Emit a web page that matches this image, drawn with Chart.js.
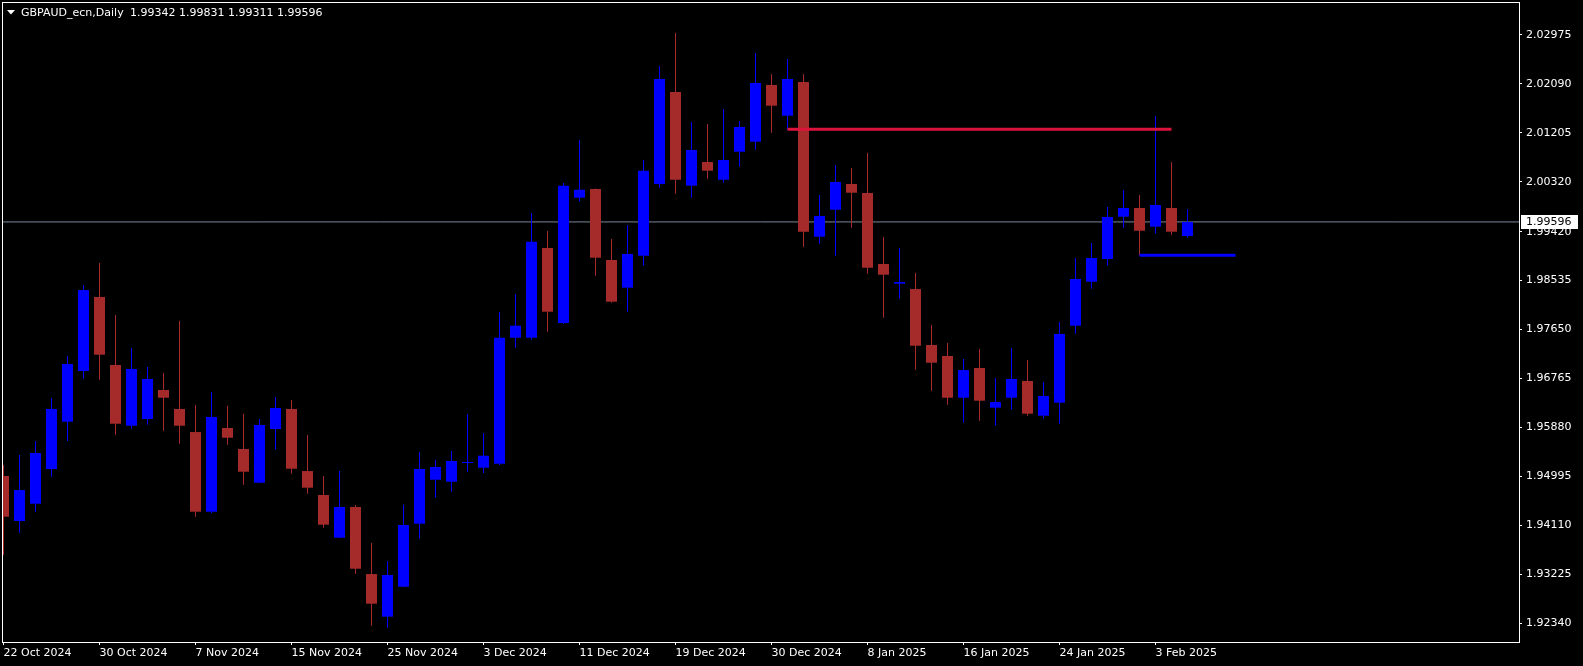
<!DOCTYPE html>
<html>
<head>
<meta charset="utf-8">
<title>GBPAUD_ecn,Daily</title>
<script src="https://cdn.jsdelivr.net/npm/chart.js@4.4.1/dist/chart.umd.min.js"></script>
<style>
  html, body { margin: 0; padding: 0; background: #000; overflow: hidden; }
  canvas { display: block; }
</style>
</head>
<body>
<canvas id="chart" width="1583" height="666"></canvas>
<script>
const symbol = 'GBPAUD_ecn,Daily'

const dates = [
  '22 Oct 2024', '23 Oct 2024', '24 Oct 2024', '25 Oct 2024', '28 Oct 2024', '29 Oct 2024',
  '30 Oct 2024', '31 Oct 2024', '1 Nov 2024', '4 Nov 2024', '5 Nov 2024', '6 Nov 2024',
  '7 Nov 2024', '8 Nov 2024', '11 Nov 2024', '12 Nov 2024', '13 Nov 2024', '14 Nov 2024',
  '15 Nov 2024', '18 Nov 2024', '19 Nov 2024', '20 Nov 2024', '21 Nov 2024', '22 Nov 2024',
  '25 Nov 2024', '26 Nov 2024', '27 Nov 2024', '28 Nov 2024', '29 Nov 2024', '2 Dec 2024',
  '3 Dec 2024', '4 Dec 2024', '5 Dec 2024', '6 Dec 2024', '9 Dec 2024', '10 Dec 2024',
  '11 Dec 2024', '12 Dec 2024', '13 Dec 2024', '16 Dec 2024', '17 Dec 2024', '18 Dec 2024',
  '19 Dec 2024', '20 Dec 2024', '23 Dec 2024', '24 Dec 2024', '26 Dec 2024', '27 Dec 2024',
  '30 Dec 2024', '31 Dec 2024', '2 Jan 2025', '3 Jan 2025', '6 Jan 2025', '7 Jan 2025',
  '8 Jan 2025', '9 Jan 2025', '10 Jan 2025', '13 Jan 2025', '14 Jan 2025', '15 Jan 2025',
  '16 Jan 2025', '17 Jan 2025', '20 Jan 2025', '21 Jan 2025', '22 Jan 2025', '23 Jan 2025',
  '24 Jan 2025', '27 Jan 2025', '28 Jan 2025', '29 Jan 2025', '30 Jan 2025', '31 Jan 2025',
  '3 Feb 2025', '4 Feb 2025', '5 Feb 2025'
]

const open = [
  1.95003, 1.94190, 1.94502, 1.95130, 1.95985, 1.96901, 1.98239, 1.97010, 1.95912, 1.96033,
  1.96558, 1.96214, 1.95798, 1.94358, 1.95871, 1.95491, 1.94882, 1.95853, 1.96214, 1.95093,
  1.94660, 1.93888, 1.94443, 1.93231, 1.92460, 1.93002, 1.94141, 1.94936, 1.94900, 1.95238,
  1.95153, 1.95225, 1.97503, 1.97503, 1.99125, 1.97769, 2.00034, 2.00191, 1.98908, 1.98407,
  1.98985, 2.00282, 2.01945, 2.00251, 2.00679, 2.00359, 2.00865, 2.01046, 2.02071, 2.01516,
  2.02125, 1.99329, 1.99817, 2.00282, 2.00119, 1.98835, 1.98479, 1.98383, 1.97371, 1.97172,
  1.96418, 1.96955, 1.96238, 1.96418, 1.96720, 1.96093, 1.96328, 1.97720, 1.98515, 1.98926,
  1.99690, 1.99848, 1.99510, 1.99848, 1.99342
]
const high = [
  1.95202, 1.95383, 1.95636, 1.96413, 1.97172, 1.98456, 1.98853, 1.97913, 1.97317, 1.96973,
  1.96865, 1.97805, 1.96287, 1.96522, 1.96268, 1.96124, 1.96033, 1.96431, 1.96377, 1.95744,
  1.95003, 1.95093, 1.94479, 1.93792, 1.93466, 1.94484, 1.95437, 1.95298, 1.95455, 1.96124,
  1.95780, 1.97968, 1.98293, 1.99757, 1.99432, 2.00300, 2.01077, 2.00200, 1.99287, 1.99540,
  2.00715, 2.02415, 2.03011, 2.01402, 2.01366, 2.01637, 2.01420, 2.02650, 2.02270, 2.02541,
  2.02270, 2.00083, 2.00625, 2.00571, 2.00842, 1.99323, 1.99125, 1.98673, 1.97733, 1.97407,
  1.97118, 1.97299, 1.96775, 1.97317, 1.97100, 1.96702, 1.97787, 1.98944, 1.99215, 1.99866,
  2.00173, 2.00083, 2.01511, 2.00679, 1.99831
]
const low = [
  1.93575, 1.93978, 1.94358, 1.94990, 1.95636, 1.96762, 1.96744, 1.95750, 1.95858, 1.95930,
  1.95822, 1.95587, 1.94267, 1.94329, 1.95569, 1.94846, 1.94875, 1.95478, 1.95045, 1.94683,
  1.94068, 1.93880, 1.93237, 1.92297, 1.92261, 1.92990, 1.93870, 1.94611, 1.94719, 1.95081,
  1.95057, 1.95202, 1.97322, 1.97467, 1.97612, 1.97750, 1.99962, 1.98624, 1.98136, 1.97973,
  1.98805, 2.00215, 2.00106, 2.00034, 2.00377, 2.00305, 2.00594, 2.00902, 2.01209, 2.01267,
  1.99148, 1.99202, 1.98985, 1.99492, 1.98660, 1.97865, 1.98208, 1.96925, 1.96545, 1.96292,
  1.95966, 1.96003, 1.95912, 1.96201, 1.96093, 1.96039, 1.95948, 1.97575, 1.98389, 1.98805,
  1.99492, 1.98993, 1.99383, 1.99365, 1.99311
]
const close = [
  1.94267, 1.94750, 1.95419, 1.96214, 1.97028, 1.98365, 1.97196, 1.95948, 1.96937, 1.96757,
  1.96418, 1.95912, 1.94358, 1.96070, 1.95695, 1.95081, 1.95925, 1.96232, 1.95135, 1.94792,
  1.94123, 1.94443, 1.93327, 1.92695, 1.93213, 1.94117, 1.95130, 1.95166, 1.95274, 1.95251,
  1.95370, 1.97503, 1.97720, 1.99238, 1.97973, 2.00251, 2.00178, 1.98949, 1.98154, 1.99016,
  2.00522, 2.02180, 2.00359, 2.00896, 2.00522, 2.00715, 2.01312, 2.02107, 2.01697, 2.02180,
  1.99419, 1.99703, 2.00318, 2.00124, 1.98768, 1.98642, 1.98510, 1.97358, 1.97051, 1.96418,
  1.96919, 1.96364, 1.96341, 1.96757, 1.96129, 1.96449, 1.97570, 1.98564, 1.98944, 1.99685,
  1.99848, 1.99437, 1.99902, 1.99419, 1.99596
]

const xTickDates = [
  '22 Oct 2024', '30 Oct 2024', '7 Nov 2024', '15 Nov 2024', '25 Nov 2024', '3 Dec 2024',
  '11 Dec 2024', '19 Dec 2024', '30 Dec 2024', '8 Jan 2025', '16 Jan 2025', '24 Jan 2025', '3 Feb 2025'
]
const yTicks = [
  2.02975, 2.02090, 2.01205, 2.00320, 1.99420, 1.98535, 1.97650,
  1.96765, 1.95880, 1.94995, 1.94110, 1.93225, 1.92340
]

// current bid and the two drawn levels (bar index from / to, price)
const bid = 1.99596
const levelPrice = [2.01270, 1.98993]
const levelFrom = [49, 71]
const levelTo = [73, 77]

const BULL = '#0000ff'
const BEAR = '#a52a2a'
const FONT = '"DejaVu Sans", sans-serif'

const last = close.length - 1
const isUp = close.map((c, i) => c >= open[i])
const candleColors = isUp.map(up => up ? BULL : BEAR)
const xTickIdx = xTickDates.map(d => dates.indexOf(d))

Chart.defaults.font.family = FONT
Chart.defaults.font.size = 11
Chart.defaults.color = '#ffffff'

// keep the plot area glued to the canvas edges like the terminal does
const noPad = scale => {
    scale.paddingTop = 0
    scale.paddingBottom = 0
    scale.paddingLeft = 0
    scale.paddingRight = 0
}

const mtOverlay = {
    id: 'mtOverlay',
    afterDraw(chart) {
        const { ctx, chartArea: a, scales } = chart
        ctx.save()
        // chart frame
        ctx.strokeStyle = '#ffffff'
        ctx.lineWidth = 1
        ctx.strokeRect(a.left + 0.5, a.top + 0.5, a.right - a.left, a.bottom - a.top)

        // bid price tag on the axis
        const py = Math.round(scales.y.getPixelForValue(bid))
        ctx.fillStyle = '#ffffff'
        ctx.fillRect(a.right + 2, py - 7, 57, 14)
        ctx.fillStyle = '#000000'
        ctx.font = '11px ' + FONT
        ctx.textBaseline = 'middle'
        ctx.textAlign = 'left'
        ctx.fillText(bid.toFixed(5), a.right + 7, py + 0.5)

        // header: symbol + last bar OHLC
        ctx.fillStyle = '#ffffff'
        ctx.beginPath()
        ctx.moveTo(7, 10)
        ctx.lineTo(15, 10)
        ctx.lineTo(11, 14.5)
        ctx.closePath()
        ctx.fill()
        ctx.fillText(symbol, 21, 13)
        const ohlc = [open[last], high[last], low[last], close[last]].map(v => v.toFixed(5)).join(' ')
        ctx.fillText(ohlc, 130, 13)
        ctx.restore()
    }
}

new Chart(document.getElementById('chart'), {
    type: 'bar',
    data: {
        datasets: [
            {
                type: 'line',
                label: 'resistance',
                data: [{ x: levelFrom[0], y: levelPrice[0] }, { x: levelTo[0], y: levelPrice[0] }],
                borderColor: '#dc143c',
                borderWidth: 3,
                pointRadius: 0,
                order: 0
            },
            {
                type: 'line',
                label: 'support',
                data: [{ x: levelFrom[1], y: levelPrice[1] }, { x: levelTo[1], y: levelPrice[1] }],
                borderColor: '#0000ff',
                borderWidth: 3,
                pointRadius: 0,
                order: 0
            },
            {
                label: 'body',
                data: dates.map((d, i) => ({ x: i, y: [open[i], close[i]] })),
                backgroundColor: candleColors,
                grouped: false,
                maxBarThickness: 11,
                minBarLength: 1,
                inflateAmount: 0,
                order: 1
            },
            {
                label: 'wick',
                data: dates.map((d, i) => ({ x: i, y: [low[i], high[i]] })),
                backgroundColor: candleColors,
                grouped: false,
                maxBarThickness: 1,
                inflateAmount: 0,
                order: 2
            },
            {
                type: 'line',
                label: 'bid',
                data: [{ x: -5, y: bid }, { x: 100, y: bid }],
                borderColor: '#778899',
                borderWidth: 1,
                pointRadius: 0,
                clip: 0,
                order: 3
            }
        ]
    },
    options: {
        responsive: false,
        animation: false,
        devicePixelRatio: 1,
        events: [],
        layout: { padding: { left: 2, top: 2, right: 0, bottom: 0 } },
        plugins: {
            legend: { display: false },
            tooltip: { enabled: false }
        },
        scales: {
            x: {
                type: 'linear',
                min: -0.09375,
                max: 94.71875,
                bounds: 'data',
                offset: false,
                border: { display: false },
                grid: { drawOnChartArea: false, offset: false, color: '#ffffff', tickLength: 3 },
                afterBuildTicks: scale => { scale.ticks = xTickIdx.map(v => ({ value: v })) },
                afterFit: scale => { scale.height = 24; noPad(scale) },
                ticks: {
                    align: 'start',
                    autoSkip: false,
                    maxRotation: 0,
                    minRotation: 0,
                    padding: 2,
                    color: '#ffffff',
                    callback: (v, i) => xTickDates[i]
                }
            },
            y: {
                type: 'linear',
                position: 'right',
                min: 1.920025,
                max: 2.035715,
                bounds: 'data',
                border: { display: false },
                grid: { drawOnChartArea: false, color: '#ffffff', tickLength: 3 },
                afterBuildTicks: scale => { scale.ticks = yTicks.map(v => ({ value: v })) },
                afterFit: scale => { scale.width = 64; noPad(scale) },
                ticks: {
                    padding: 4,
                    color: '#ffffff',
                    callback: v => v.toFixed(5)
                }
            }
        }
    },
    plugins: [mtOverlay]
})
</script>
</body>
</html>
